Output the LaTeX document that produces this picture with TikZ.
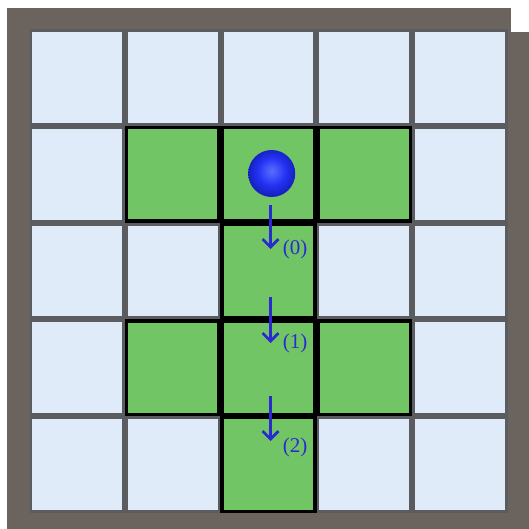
\documentclass[tikz,border=0pt]{standalone}
\usepackage{fontspec}
\setmainfont{Liberation Serif}
\usetikzlibrary{arrows.meta}
\definecolor{frame}{HTML}{6B635D}
\definecolor{gapgray}{HTML}{5A5C5F}
\definecolor{lightcell}{HTML}{E0EBFA}
\definecolor{greencell}{HTML}{72C565}
\definecolor{arrowblue}{HTML}{2A2AD2}
\definecolor{ballhi}{HTML}{5A6CFF}
\definecolor{ballmid}{HTML}{2232F2}
\definecolor{balldark}{HTML}{1620C0}
\pgfdeclareradialshading{blueball}{\pgfpoint{0bp}{3bp}}{color(0bp)=(ballhi); color(5bp)=(ballhi!70!ballmid); color(15bp)=(ballmid); color(25bp)=(balldark); color(50bp)=(balldark)}
\begin{document}
\begin{tikzpicture}[x=1pt,y=-1pt,
  plain/.style={fill=lightcell, draw=none, minimum width=89.8pt, minimum height=90.8pt, inner sep=0pt, outer sep=0pt},
  green/.style={fill=greencell, draw=black, line width=3.5pt, minimum width=92.8pt, minimum height=93.8pt, inner sep=0pt, outer sep=0pt},
  move/.style={draw=arrowblue, line width=2.8pt, -{Straight Barb[length=8pt,width=16pt,line width=2.8pt]}},
  lab/.style={text=arrowblue, font=\fontsize{21}{21}\selectfont, inner sep=0pt}]
\useasboundingbox (0,0) rectangle (529,529);
\fill[white] (0,0) rectangle (529,529);
\fill[frame] (7,8) rectangle (529,529);
\fill[white] (511,8) rectangle (529,32);
\fill[gapgray] (29.5,29.5) rectangle (507.5,512.5);
\foreach \r in {0,...,4}{
  \foreach \c in {0,...,4}{
    \node[plain] (c-\r-\c) at ({76.9+95.8*\c},{77.4+96.8*\r}) {};
  }
}
\foreach \r/\c in {1/1,1/2,1/3,2/2,3/1,3/2,3/3,4/2}{
  \node[green] (g-\r-\c) at ({76.9+95.8*\c},{77.4+96.8*\r}) {};
}
\node[circle, minimum size=47pt, inner sep=0pt, shading=blueball] (ball) at (271.7,173.5) {};
\coordinate (a0s) at (270.5,205);
\coordinate (a0e) at (270.5,249);
\coordinate (a1s) at (270.5,297);
\coordinate (a1e) at (270.5,343);
\coordinate (a2s) at (270.5,396);
\coordinate (a2e) at (270.5,441);
\draw[move] (a0s) -- (a0e);
\draw[move] (a1s) -- (a1e);
\draw[move] (a2s) -- (a2e);
\node[lab] (l0) at (295,249) {(0)};
\node[lab] (l1) at (295,343.5) {(1)};
\node[lab] (l2) at (295,447) {(2)};
\end{tikzpicture}
\end{document}
